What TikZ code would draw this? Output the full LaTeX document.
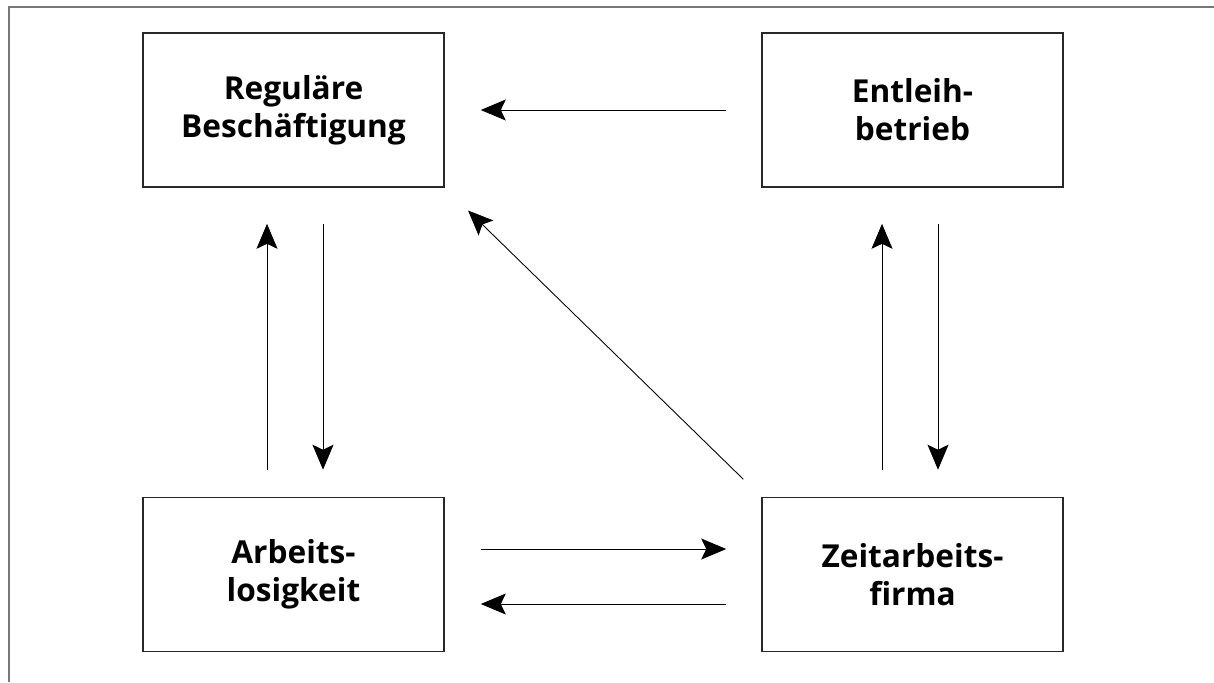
\documentclass[tikz,border=0pt]{standalone}
\usepackage{fontspec}
\setmainfont{Open Sans}
\usetikzlibrary{arrows.meta,positioning,calc}
\definecolor{FrameGray}{RGB}{120,120,120}
\definecolor{BoxGray}{RGB}{40,40,40}
\tikzset{
  statebox/.style={draw=BoxGray, line width=0.9pt, minimum width=6.02cm, minimum height=3.08cm,
    align=center, font=\bfseries\fontsize{18}{21.5}\selectfont},
  flow/.style={-{Stealth[length=5mm,width=4.2mm,inset=1mm]}, line width=0.5pt}
}
\begin{document}
\begin{tikzpicture}
        \useasboundingbox (0,0) rectangle (24.28,-13.64);
        \draw[FrameGray, line width=1.2pt] (0.18,-13.64) -- (0.18,-0.14) -- (24.28,-0.14);
        \node[statebox] (regular) at (5.87,-2.2) {Reguläre\\Beschäftigung};
        \node[statebox] (entleih) at (18.25,-2.2) {Entleih-\\betrieb};
        \node[statebox] (arbeitslos) at (5.87,-11.49) {Arbeits-\\losigkeit};
        \node[statebox] (zeitarbeit) at (18.25,-11.49) {Zeitarbeits-\\firma};
        \draw[flow, shorten <=0.7cm, shorten >=0.72cm] (entleih.west) -- (regular.east);
        \draw[flow, shorten <=0.54cm, shorten >=0.72cm] ([xshift=-0.53cm]arbeitslos.north) -- ([xshift=-0.53cm]regular.south);
        \draw[flow, shorten <=0.72cm, shorten >=0.54cm] ([xshift=0.59cm]regular.south) -- ([xshift=0.59cm]arbeitslos.north);
        \draw[flow, shorten <=0.54cm, shorten >=0.72cm] ([xshift=-0.61cm]zeitarbeit.north) -- ([xshift=-0.61cm]entleih.south);
        \draw[flow, shorten <=0.72cm, shorten >=0.54cm] ([xshift=0.51cm]entleih.south) -- ([xshift=0.51cm]zeitarbeit.north);
        \draw[flow, shorten <=0.5cm, shorten >=0.65cm] (zeitarbeit.north west) -- (regular.south east);
        \draw[flow, shorten <=0.72cm, shorten >=0.7cm] ([yshift=0.51cm]arbeitslos.east) -- ([yshift=0.51cm]zeitarbeit.west);
        \draw[flow, shorten <=0.7cm, shorten >=0.72cm] ([yshift=-0.59cm]zeitarbeit.west) -- ([yshift=-0.59cm]arbeitslos.east);
      \end{tikzpicture}
\end{document}
